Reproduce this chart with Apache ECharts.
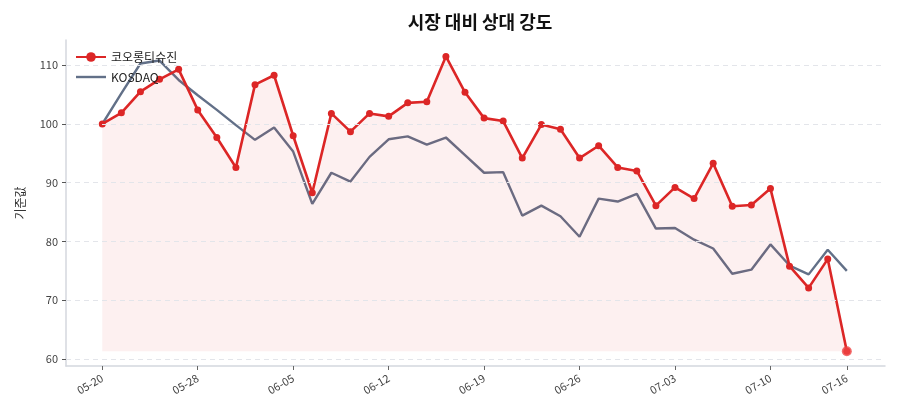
<!DOCTYPE html>
<html>
<head>
<meta charset="utf-8">
<script src="https://cdn.jsdelivr.net/npm/echarts@6/dist/echarts.min.js"></script>
<style>
  html, body { margin: 0; padding: 0; background: #fff; }
  #chart { width: 900px; height: 420px; }
</style>
</head>
<body>
<div id="chart"></div>
<script>
// 거래일 라벨 (5일 간격으로만 표시)
var dates = [
  "05-20", "05-21", "05-22", "05-23", "05-27",
  "05-28", "05-29", "05-30", "05-31", "06-03",
  "06-05", "06-07", "06-10", "06-11", "06-11",
  "06-12", "06-13", "06-14", "06-17", "06-18",
  "06-19", "06-20", "06-21", "06-24", "06-25",
  "06-26", "06-27", "06-28", "07-01", "07-02",
  "07-03", "07-04", "07-05", "07-08", "07-09",
  "07-10", "07-11", "07-12", "07-15", "07-16"
];
var stockValues = [
  100.0, 101.9, 105.5, 107.6, 109.3, 102.4, 97.7, 92.6, 106.7, 108.3,
  98.0, 88.3, 101.8, 98.7, 101.8, 101.3, 103.6, 103.8, 111.5, 105.4,
  101.0, 100.5, 94.2, 99.9, 99.1, 94.2, 96.3, 92.6, 92.0, 86.1,
  89.2, 87.3, 93.3, 86.0, 86.2, 89.0, 75.8, 72.1, 77.0, 61.3
];
var kosdaqValues = [
  100.0, 105.2, 110.3, 110.8, 107.5, 104.9, 102.4, 99.8, 97.3, 99.4,
  95.3, 86.4, 91.7, 90.2, 94.4, 97.4, 97.9, 96.5, 97.7, 94.7,
  91.7, 91.8, 84.4, 86.1, 84.3, 80.8, 87.3, 86.8, 88.1, 82.2,
  82.3, 80.3, 78.8, 74.5, 75.2, 79.5, 75.9, 74.4, 78.6, 75.0
];
var xTickIdx = [0, 5, 10, 15, 20, 25, 30, 35, 39];
var yTicks = [60, 70, 80, 90, 100, 110];

var stockName = "코오롱티슈진";
var kosdaqName = "KOSDAQ";

var myChart = echarts.init(document.getElementById("chart"));
var lastIdx = stockValues.length - 1;
var minStock = Math.min.apply(null, stockValues);

myChart.setOption({
  animation: false,
  textStyle: { fontFamily: "Noto Sans CJK KR" },
  title: {
    text: "시장 대비 상대 강도",
    left: 475,
    textAlign: "center",
    top: 8,
    textStyle: {
      fontSize: 18,
      fontWeight: "bold",
      color: "#111",
      fontFamily: "Noto Sans CJK KR"
    }
  },
  legend: {
    orient: "vertical",
    left: 70,
    top: 46,
    itemWidth: 30,
    itemHeight: 12,
    itemGap: 8,
    data: [
      { name: stockName },
      { name: kosdaqName, icon: "path://M0,0L30,0L30,2.4L0,2.4Z" }
    ],
    textStyle: { fontSize: 12, color: "#222", fontFamily: "Noto Sans CJK KR" }
  },
  grid: { left: 66, right: 15, top: 40, bottom: 54 },
  xAxis: {
    type: "value",
    min: -1.9,
    max: 41,
    splitLine: { show: false },
    axisLine: { show: true, lineStyle: { color: "#d4d7de", width: 1.5 } },
    axisTick: {
      show: true,
      length: 4,
      customValues: xTickIdx,
      lineStyle: { color: "#666" }
    },
    axisLabel: {
      customValues: xTickIdx,
      rotate: 30,
      fontSize: 11,
      color: "#444",
      margin: 11,
      formatter: function (v) { return dates[Math.round(v)]; }
    }
  },
  yAxis: {
    type: "value",
    min: 58.8,
    max: 114.3,
    name: "기준값",
    nameLocation: "middle",
    nameGap: 40,
    nameTextStyle: { fontSize: 12, color: "#333", fontFamily: "Noto Sans CJK KR" },
    axisLine: { show: true, onZero: false, lineStyle: { color: "#d4d7de", width: 1.5 } },
    axisTick: {
      show: true,
      length: 4,
      customValues: yTicks,
      lineStyle: { color: "#555" }
    },
    axisLabel: {
      customValues: yTicks,
      fontSize: 11,
      color: "#444",
      margin: 8
    },
    splitLine: { show: false }
  },
  series: [
    {
      name: kosdaqName,
      type: "line",
      data: kosdaqValues.map(function (v, i) { return [i, v]; }),
      showSymbol: false,
      symbol: "none",
      lineStyle: { color: "#627088", width: 2.4 },
      itemStyle: { color: "#627088" },
      z: 2,
      markLine: {
        silent: true,
        symbol: "none",
        label: { show: false },
        lineStyle: { color: "#e3e5ea", type: [5, 4], width: 1 },
        data: yTicks.map(function (t) { return { yAxis: t }; })
      }
    },
    {
      name: stockName,
      type: "line",
      data: stockValues.map(function (v, i) { return [i, v]; }),
      symbol: "circle",
      symbolSize: 7,
      lineStyle: { color: "#dc2626", width: 2.6 },
      itemStyle: { color: "#dc2626" },
      areaStyle: { color: "rgba(220,38,38,0.1)", origin: minStock },
      z: 3
    },
    {
      name: "last",
      type: "scatter",
      data: [[lastIdx, stockValues[lastIdx]]],
      symbolSize: 10,
      itemStyle: { color: "#ef4444" },
      z: 4
    }
  ]
});
</script>
</body>
</html>
